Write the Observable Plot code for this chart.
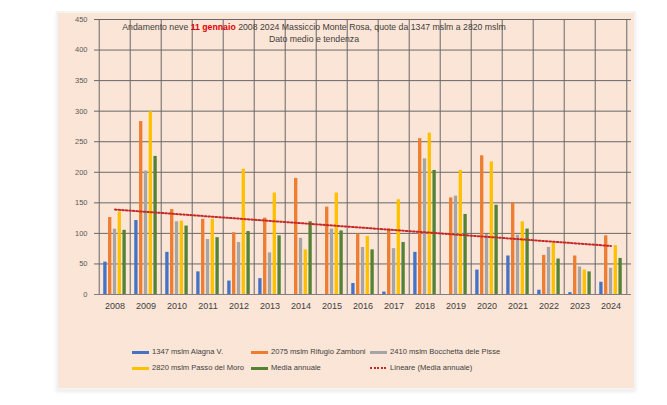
<!DOCTYPE html>
<html><head><meta charset="utf-8">
<script src="https://cdn.jsdelivr.net/npm/d3@7"></script>
<script src="https://cdn.jsdelivr.net/npm/@observablehq/plot@0.6"></script>
<style>
html,body{margin:0;padding:0;background:#fff}
body{width:667px;height:405px;position:relative;overflow:hidden;font-family:"Liberation Sans",Arial,sans-serif}
#box{position:absolute;left:58px;top:13px;width:576px;height:375px;background:#fbe5d6;box-shadow:0 0 0 2px #f3f3f3,0 2px 3px 2px #ececec}
#chart{position:absolute;left:0;top:0}
#title{position:absolute;left:6px;top:8px;width:500px;text-align:center;font-size:9.8px;line-height:12px;color:#404040;white-space:nowrap;transform:scaleX(0.89);transform-origin:250px 0}
#title b{color:#e00000}
.leg{position:absolute;font-size:7.6px;color:#404040;white-space:nowrap;line-height:10px}
.sw{position:absolute;width:17px;height:3px}
</style>
</head><body>
<div id="box">
  <div id="chart"></div>
  <div id="title">Andamento neve <b>11 gennaio</b> 2008 2024 Massiccio Monte Rosa, quote da 1347 mslm a 2820 mslm<br>Dato medio e tendenza</div>
  <div id="legend"></div>
</div>
<script>
// ---- data ----
const years = ["2008","2009","2010","2011","2012","2013","2014","2015","2016","2017","2018","2019","2020","2021","2022","2023","2024"];
const seriesNames = ["1347 mslm Alagna V.","2075 mslm Rifugio Zamboni","2410 mslm Bocchetta dele Pisse","2820 mslm Passo del Moro","Media annuale"];
const alagna    = [53,121,69,37,22,26,null,0,18,4,69,0,40,63,7,3,20];
const zamboni   = [126,283,139,123,101,125,190,143,99,107,255,158,227,150,64,63,96];
const bocchetta = [107,202,119,90,85,68,92,107,77,75,222,161,98,97,77,45,43];
const moro      = [135,299,120,123,205,166,73,166,95,155,264,203,217,119,84,40,80];
const media     = [105,226,112,93,103,96,119,104,73,85,203,131,146,107,58,37,59];
const yTicks = [0,50,100,150,200,250,300,350,400,450];
const trendLabel = "Lineare (Media annuale)";
const colors = ["#4472c4","#ed7d31","#a5a5a5","#ffc000","#548235"];
const trendColor = "#c62828";

const seriesValues = [alagna, zamboni, bocchetta, moro, media];

// linear regression of Media annuale
const n = media.length;
const mx = d3.mean(d3.range(n)), my = d3.mean(media);
const slope = d3.sum(d3.range(n), i => (i - mx) * (media[i] - my)) / d3.sum(d3.range(n), i => (i - mx) ** 2);
const trend = years.map((y, i) => ({year: y, value: my + slope * (i - mx)}));

// ---- layout ----
const W = 576, H = 305, mL = 36, mR = 3, mT = 6, mB = 24;
const bw = (W - mL - mR) / years.length;
const barW = 3.9, stride = 4.8, groupPad = (bw - (4 * stride + barW)) / 2;

const grid = "#686868";
const marks = [
  Plot.ruleY(yTicks, {stroke: grid, strokeWidth: 1}),
  Plot.ruleX(years, {x: d => d, dx: -bw / 2, stroke: grid, strokeWidth: 1}),
  Plot.ruleX([years[years.length - 1]], {x: d => d, dx: bw / 2, stroke: grid, strokeWidth: 1}),
];
seriesValues.forEach((vals, s) => {
  const rows = years.map((y, i) => ({year: y, value: vals[i]})).filter(d => d.value != null && d.value > 0);
  const l = groupPad + s * stride;
  marks.push(Plot.barY(rows, {x: "year", y: "value", fill: colors[s], insetLeft: l, insetRight: bw - l - barW}));
});
marks.push(Plot.lineY(trend, {x: "year", y: "value", stroke: trendColor, strokeWidth: 2, strokeDasharray: "1.6,2"}));
marks.push(Plot.ruleY([0], {stroke: "#808080", strokeWidth: 1}));

const chart = Plot.plot({
  width: W, height: H,
  marginLeft: mL, marginRight: mR, marginTop: mT, marginBottom: mB,
  style: {background: "transparent", fontFamily: "Liberation Sans, Arial, sans-serif"},
  x: {type: "band", domain: years, padding: 0, label: null},
  y: {domain: [0, 450], label: null},
  marks: [
    ...marks,
    Plot.axisX({tickSize: 0, tickPadding: 8, fontSize: 9, color: "#404040", label: null}),
    Plot.axisY({ticks: yTicks, tickSize: 0, tickPadding: 7, fontSize: 7.5, color: "#595959", label: null})
  ]
});
document.getElementById("chart").appendChild(chart);

// ---- legend ----
const leg = document.getElementById("legend");
const items = [
  {name: seriesNames[0], color: colors[0], x: 74, y: 339},
  {name: seriesNames[1], color: colors[1], x: 193, y: 339},
  {name: seriesNames[2], color: colors[2], x: 312, y: 339},
  {name: seriesNames[3], color: colors[3], x: 74, y: 355},
  {name: seriesNames[4], color: colors[4], x: 193, y: 355},
  {name: trendLabel, color: trendColor, x: 312, y: 355, dotted: true}
];
items.forEach(it => {
  const sw = document.createElement("div");
  sw.className = "sw";
  sw.style.left = it.x + "px"; sw.style.top = (it.y - 1.5) + "px";
  if (it.dotted) { sw.style.background = `repeating-linear-gradient(90deg, ${it.color} 0 2px, transparent 2px 3.5px)`; sw.style.height = "2px"; }
  else sw.style.background = it.color;
  leg.appendChild(sw);
  const t = document.createElement("div");
  t.className = "leg";
  t.textContent = it.name;
  t.style.left = (it.x + 20) + "px"; t.style.top = (it.y - 5) + "px";
  leg.appendChild(t);
});
</script>
</body></html>
